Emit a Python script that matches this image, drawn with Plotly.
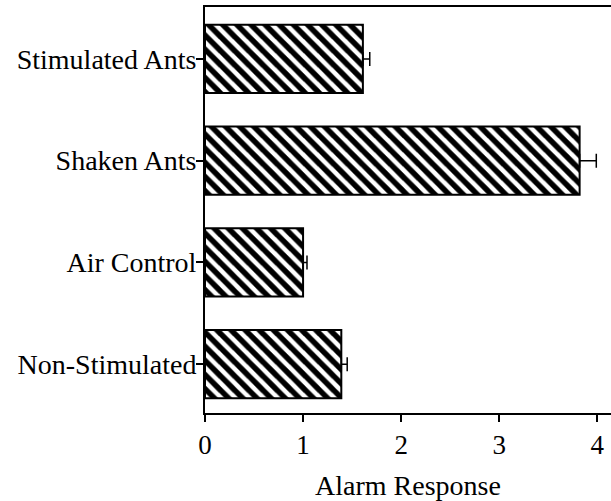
import plotly.graph_objects as go

categories = ["Non-Stimulated", "Air Control", "Shaken Ants", "Stimulated Ants"]
values = [1.39, 1.0, 3.82, 1.61]
errors = [0.06, 0.04, 0.17, 0.07]
x_ticks = [0, 1, 2, 3, 4]

font = "Liberation Serif, Times New Roman, serif"
fsize = 28

fig = go.Figure(go.Bar(
    y=categories,
    x=values,
    orientation="h",
    width=0.67,
    marker=dict(
        color="white",
        line=dict(color="black", width=2),
        pattern=dict(shape="\\", fgcolor="black", bgcolor="white",
                     size=10, solidity=0.55, fillmode="replace"),
    ),
    error_x=dict(type="data", array=errors, arrayminus=[0] * len(errors),
                 symmetric=False, color="black", thickness=1.5, width=7),
))

fig.update_layout(
    width=611, height=501,
    margin=dict(l=205, r=0, t=7, b=88),
    plot_bgcolor="white", paper_bgcolor="white",
    showlegend=False,
    font=dict(family=font, size=fsize, color="black"),
    xaxis=dict(
        range=[0, 4.14], tickvals=x_ticks, ticktext=[str(t) for t in x_ticks],
        showgrid=False, zeroline=False,
        showline=True, linecolor="black", linewidth=2, mirror=True,
        ticks="outside", ticklen=7, tickwidth=2, tickcolor="black",
        tickfont=dict(family=font, size=fsize - 1),
        title=dict(text="Alarm Response", font=dict(family=font, size=fsize), standoff=16),
    ),
    yaxis=dict(
        range=[-0.48, 3.51],
        categoryorder="array", categoryarray=categories,
        showgrid=False, zeroline=False,
        showline=True, linecolor="black", linewidth=2,
        ticks="outside", ticklen=7, tickwidth=2, tickcolor="black",
        tickfont=dict(family=font, size=fsize),
        ticklabelstandoff=-6,
    ),
)

fig.write_html("out.html", config={"displayModeBar": False},
               post_script="document.body.style.margin='0';document.body.style.overflow='hidden';")
